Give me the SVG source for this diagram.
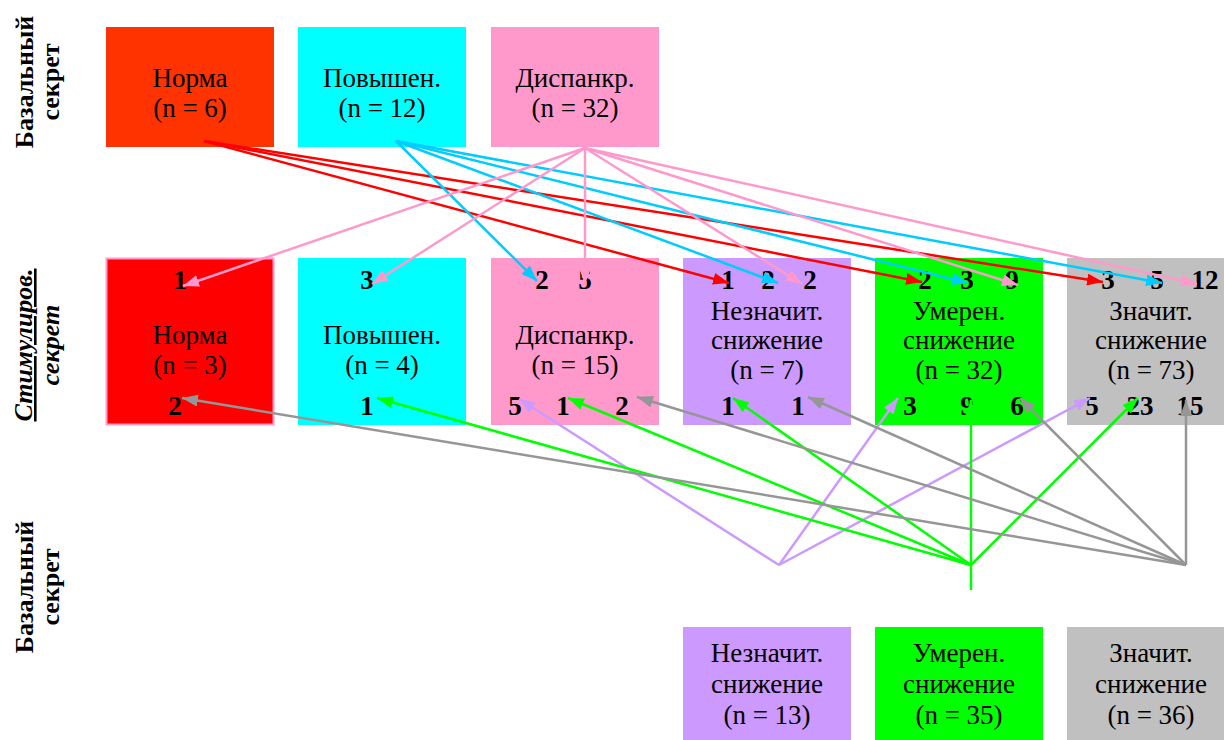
<svg xmlns="http://www.w3.org/2000/svg" width="1224" height="740" viewBox="0 0 1224 740">
<style>
.node text{font-family:"Liberation Serif","Times New Roman",serif;font-size:27px;text-anchor:middle;fill:#000}
.num{font-family:"Liberation Serif","Times New Roman",serif;font-size:19px;font-weight:bold;text-anchor:middle;fill:#000}
.side{font-family:"Liberation Serif","Times New Roman",serif;font-size:26px;font-weight:bold;text-anchor:middle;fill:#000}
.c line{stroke-width:2.5;fill:none}
.r{stroke:#FF0000}.cy{stroke:#00CCFF}.p{stroke:#FF99CC}.v{stroke:#CC99FF}.g{stroke:#00FF00}.gr{stroke:#969696}
</style>
<defs>
<marker id="aR" markerUnits="userSpaceOnUse" markerWidth="16" markerHeight="12" refX="16" refY="6" orient="auto"><path d="M0,0 L16,6 L0,12 z" fill="#FF0000"/></marker>
<marker id="aC" markerUnits="userSpaceOnUse" markerWidth="16" markerHeight="12" refX="16" refY="6" orient="auto"><path d="M0,0 L16,6 L0,12 z" fill="#00CCFF"/></marker>
<marker id="aP" markerUnits="userSpaceOnUse" markerWidth="16" markerHeight="12" refX="16" refY="6" orient="auto"><path d="M0,0 L16,6 L0,12 z" fill="#FF99CC"/></marker>
<marker id="aV" markerUnits="userSpaceOnUse" markerWidth="16" markerHeight="12" refX="16" refY="6" orient="auto"><path d="M0,0 L16,6 L0,12 z" fill="#CC99FF"/></marker>
<marker id="aG" markerUnits="userSpaceOnUse" markerWidth="16" markerHeight="12" refX="16" refY="6" orient="auto"><path d="M0,0 L16,6 L0,12 z" fill="#00FF00"/></marker>
<marker id="aY" markerUnits="userSpaceOnUse" markerWidth="16" markerHeight="12" refX="16" refY="6" orient="auto"><path d="M0,0 L16,6 L0,12 z" fill="#969696"/></marker>
</defs>
<rect width="1224" height="740" fill="#FFFFFF"/>

<g id="labels-side">
<text class="side" transform="translate(33,82) rotate(-90)">Базальный</text>
<text class="side" transform="translate(59,82) rotate(-90)">секрет</text>
<text class="side" font-style="italic" text-decoration="underline" transform="translate(32,345) rotate(-90)">Стимулиров.</text>
<text class="side" font-style="italic" transform="translate(59,345) rotate(-90)">секрет</text>
<text class="side" transform="translate(33,587) rotate(-90)">Базальный</text>
<text class="side" transform="translate(59,587) rotate(-90)">секрет</text>
</g>

<g id="top-norma" class="node"><rect x="106" y="27" width="168" height="120" fill="#FF3300"/><text x="190" y="87">Норма</text><text x="190" y="117">(n = 6)</text></g>
<g id="top-povysh" class="node"><rect x="298" y="27" width="168" height="120" fill="#00FFFF"/><text x="382" y="87">Повышен.</text><text x="382" y="117">(n = 12)</text></g>
<g id="top-dispankr" class="node"><rect x="491" y="27" width="168" height="120" fill="#FF99CC"/><text x="575" y="87">Диспанкр.</text><text x="575" y="117">(n = 32)</text></g>

<g id="mid-norma" class="node"><rect x="106.5" y="258.5" width="167" height="166" fill="#FF0000" stroke="#FF99CC" stroke-width="2"/><text x="190" y="344">Норма</text><text x="190" y="374">(n = 3)</text>
<text class="num" x="180" y="289">1</text><text class="num" x="175" y="415">2</text></g>
<g id="mid-povysh" class="node"><rect x="298" y="258" width="168" height="167" fill="#00FFFF"/><text x="382" y="344">Повышен.</text><text x="382" y="374">(n = 4)</text>
<text class="num" x="367" y="289">3</text><text class="num" x="367" y="415">1</text></g>
<g id="mid-dispankr" class="node"><rect x="491" y="258" width="168" height="167" fill="#FF99CC"/><text x="575" y="344">Диспанкр.</text><text x="575" y="374">(n = 15)</text>
<text class="num" x="542" y="289">2</text><text class="num" x="585" y="289">5</text>
<text class="num" x="515" y="415">5</text><text class="num" x="563" y="415">1</text><text class="num" x="622" y="415">2</text></g>
<g id="mid-neznach" class="node"><rect x="683" y="258" width="168" height="167" fill="#CC99FF"/><text x="767" y="320">Незначит.</text><text x="767" y="349">снижение</text><text x="767" y="379">(n = 7)</text>
<text class="num" x="728" y="289">1</text><text class="num" x="768" y="289">2</text><text class="num" x="810" y="289">2</text>
<text class="num" x="728" y="415">1</text><text class="num" x="798" y="415">1</text></g>
<g id="mid-umeren" class="node"><rect x="875" y="258" width="168" height="167" fill="#00FF00"/><text x="959" y="320">Умерен.</text><text x="959" y="349">снижение</text><text x="959" y="379">(n = 32)</text>
<text class="num" x="925" y="289">2</text><text class="num" x="967" y="289">3</text><text class="num" x="1012" y="289">9</text>
<text class="num" x="910" y="415">3</text><text class="num" x="967" y="415">9</text><text class="num" x="1017" y="415">6</text></g>
<g id="mid-znach" class="node"><rect x="1067" y="258" width="168" height="167" fill="#C0C0C0"/><text x="1151" y="320">Значит.</text><text x="1151" y="349">снижение</text><text x="1151" y="379">(n = 73)</text>
<text class="num" x="1108" y="289">3</text><text class="num" x="1157" y="289">5</text><text class="num" x="1205" y="289">12</text>
<text class="num" x="1092" y="415">5</text><text class="num" x="1140" y="415">23</text><text class="num" x="1190" y="415">15</text></g>

<g id="bot-neznach" class="node"><rect x="683" y="627" width="168" height="113" fill="#CC99FF"/><text x="767" y="662">Незначит.</text><text x="767" y="693">снижение</text><text x="767" y="724">(n = 13)</text></g>
<g id="bot-umeren" class="node"><rect x="875" y="627" width="168" height="113" fill="#00FF00"/><text x="959" y="662">Умерен.</text><text x="959" y="693">снижение</text><text x="959" y="724">(n = 35)</text></g>
<g id="bot-znach" class="node"><rect x="1067" y="627" width="168" height="113" fill="#C0C0C0"/><text x="1151" y="662">Значит.</text><text x="1151" y="693">снижение</text><text x="1151" y="724">(n = 36)</text></g>

<g id="connectors" class="c">
<line class="r" x1="204" y1="141" x2="729" y2="283" marker-end="url(#aR)"/>
<line class="r" x1="204" y1="141" x2="922" y2="282" marker-end="url(#aR)"/>
<line class="r" x1="204" y1="141" x2="1103" y2="282" marker-end="url(#aR)"/>
<line class="cy" x1="396" y1="141" x2="537" y2="281" marker-end="url(#aC)"/>
<line class="cy" x1="396" y1="141" x2="778" y2="283" marker-end="url(#aC)"/>
<line class="cy" x1="396" y1="141" x2="968" y2="283" marker-end="url(#aC)"/>
<line class="cy" x1="396" y1="141" x2="1162" y2="283" marker-end="url(#aC)"/>
<line class="p" x1="585" y1="148" x2="183" y2="286" marker-end="url(#aP)"/>
<line class="p" x1="585" y1="148" x2="372" y2="284" marker-end="url(#aP)"/>
<line class="p" x1="585" y1="148" x2="585" y2="284" marker-end="url(#aP)"/>
<line class="p" x1="585" y1="148" x2="802" y2="284" marker-end="url(#aP)"/>
<line class="p" x1="585" y1="148" x2="1018" y2="285" marker-end="url(#aP)"/>
<line class="p" x1="585" y1="148" x2="1197" y2="284" marker-end="url(#aP)"/>
<line class="v" x1="779" y1="565" x2="519" y2="399" marker-end="url(#aV)"/>
<line class="v" x1="779" y1="565" x2="898" y2="398" marker-end="url(#aV)"/>
<line class="v" x1="779" y1="565" x2="1090" y2="398" marker-end="url(#aV)"/>
<line class="g" x1="971" y1="565" x2="377" y2="398" marker-end="url(#aG)"/>
<line class="g" x1="971" y1="565" x2="568" y2="398" marker-end="url(#aG)"/>
<line class="g" x1="971" y1="565" x2="733" y2="398" marker-end="url(#aG)"/>
<line class="g" x1="971" y1="565" x2="971" y2="400" marker-end="url(#aG)"/>
<line class="g" x1="971" y1="565" x2="1138" y2="398" marker-end="url(#aG)"/>
<line class="g" x1="971" y1="565" x2="971" y2="590"/>
<line class="gr" x1="1186" y1="565" x2="182" y2="398" marker-end="url(#aY)"/>
<line class="gr" x1="1186" y1="565" x2="637" y2="397" marker-end="url(#aY)"/>
<line class="gr" x1="1186" y1="565" x2="808" y2="397" marker-end="url(#aY)"/>
<line class="gr" x1="1186" y1="565" x2="1020" y2="398" marker-end="url(#aY)"/>
<line class="gr" x1="1186" y1="565" x2="1186" y2="400" marker-end="url(#aY)"/>
</g>
</svg>
